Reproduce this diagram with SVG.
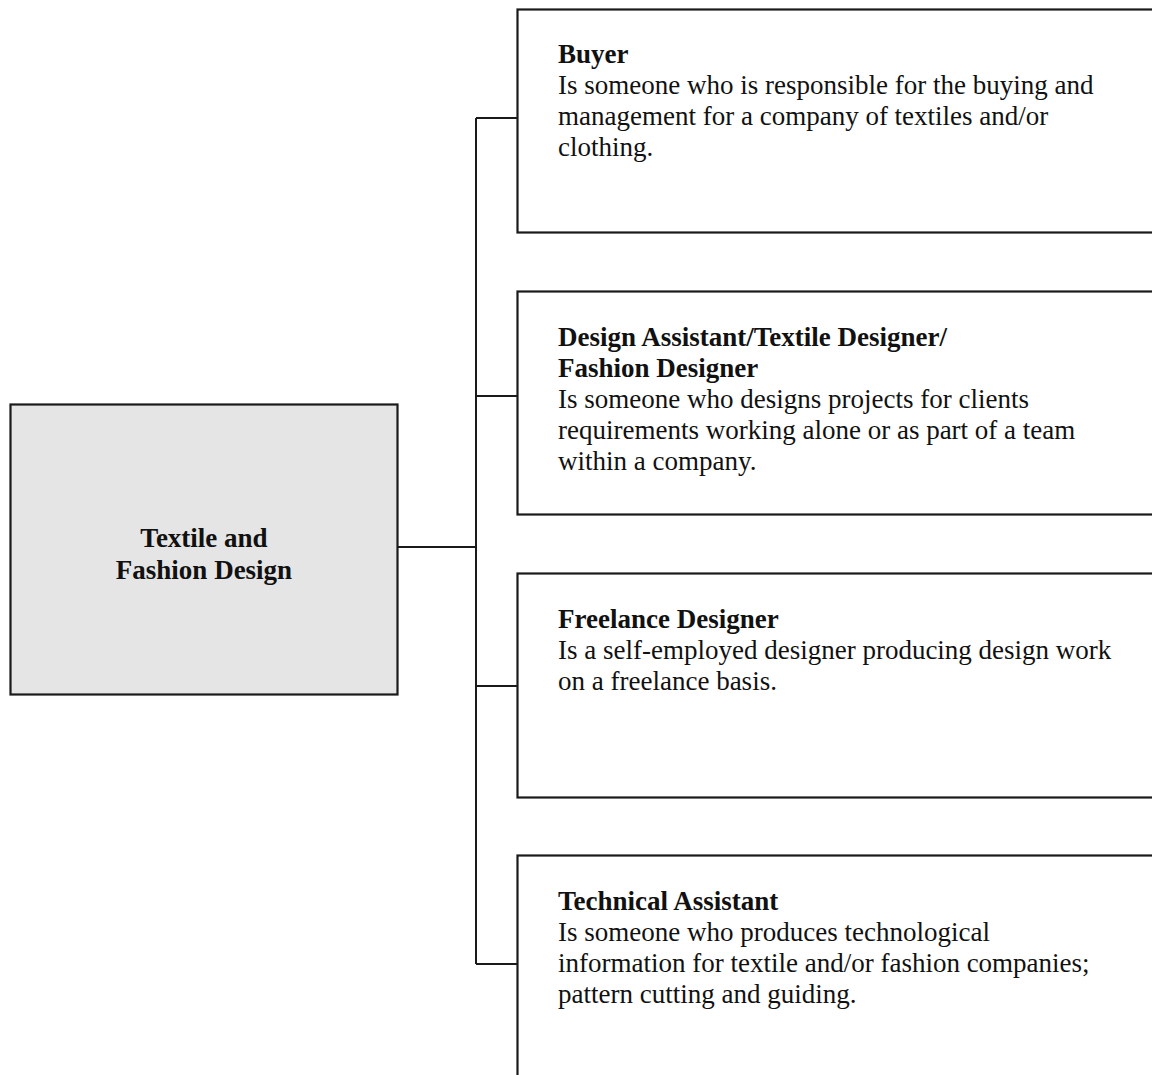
<svg xmlns="http://www.w3.org/2000/svg" width="1152" height="1075" viewBox="0 0 1152 1075">
<style>
.box{fill:#fff;stroke:#1a1a1a;stroke-width:2.2}
.root{fill:#e5e5e5;stroke:#1a1a1a;stroke-width:2.2}
.conn{fill:none;stroke:#1a1a1a;stroke-width:2}
text{font-family:"Liberation Serif","Times New Roman",serif;font-size:27px;fill:#111}
.b{font-weight:bold}
.c{text-anchor:middle}
</style>
<rect width="1152" height="1075" fill="#fff"/>
<g id="connectors">
<path class="conn" d="M397 547H476M476 118V964M476 118H517M476 396H517M476 686H517M476 964H517"/>
</g>
<g id="root">
<rect class="root" x="10.5" y="404.5" width="387" height="290"/>
<text class="b c" x="204" y="547">Textile and</text>
<text class="b c" x="204" y="579">Fashion Design</text>
</g>
<g id="buyer">
<rect class="box" x="517.5" y="9.5" width="640" height="223"/>
<text x="558" y="63"><tspan class="b">Buyer</tspan><tspan x="558" dy="31">Is someone who is responsible for the buying and</tspan><tspan x="558" dy="31">management for a company of textiles and/or</tspan><tspan x="558" dy="31">clothing.</tspan></text>
</g>
<g id="designer">
<rect class="box" x="517.5" y="291.5" width="640" height="223"/>
<text x="558" y="346"><tspan class="b">Design Assistant/Textile Designer/</tspan><tspan class="b" x="558" dy="31">Fashion Designer</tspan><tspan x="558" dy="31">Is someone who designs projects for clients</tspan><tspan x="558" dy="31">requirements working alone or as part of a team</tspan><tspan x="558" dy="31">within a company.</tspan></text>
</g>
<g id="freelance">
<rect class="box" x="517.5" y="573.5" width="640" height="224"/>
<text x="558" y="628"><tspan class="b">Freelance Designer</tspan><tspan x="558" dy="31">Is a self-employed designer producing design work</tspan><tspan x="558" dy="31">on a freelance basis.</tspan></text>
</g>
<g id="technical">
<rect class="box" x="517.5" y="855.5" width="640" height="240"/>
<text x="558" y="910"><tspan class="b">Technical Assistant</tspan><tspan x="558" dy="31">Is someone who produces technological</tspan><tspan x="558" dy="31">information for textile and/or fashion companies;</tspan><tspan x="558" dy="31">pattern cutting and guiding.</tspan></text>
</g>
</svg>
